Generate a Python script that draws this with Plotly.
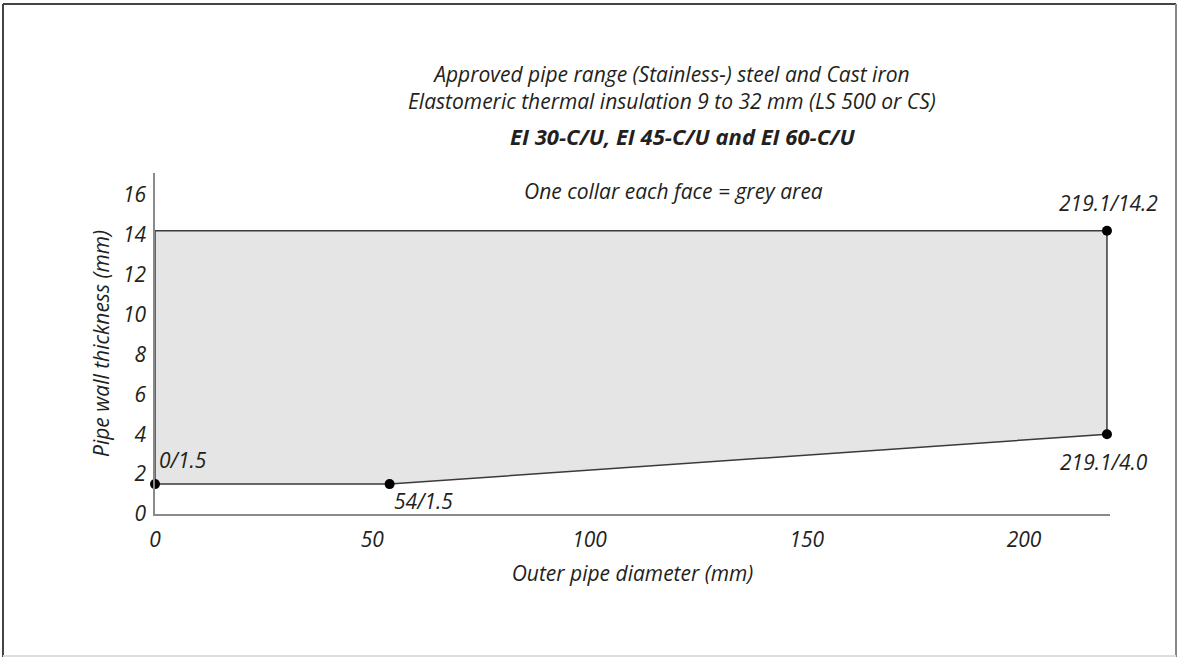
import plotly.graph_objects as go

# Data: corner points of the approved range
diameters = [0, 54, 219.1, 219.1, 0]
thicknesses = [1.5, 1.5, 4.0, 14.2, 14.2]
point_labels = ["0/1.5", "54/1.5", "219.1/4.0", "219.1/14.2"]
x_ticks = [0, 50, 100, 150, 200]
y_ticks = [0, 2, 4, 6, 8, 10, 12, 14, 16]
title_lines = [
    "Approved pipe range (Stainless-) steel and Cast iron",
    "Elastomeric thermal insulation 9 to 32 mm (LS 500 or CS)",
    "<b>EI 30-C/U, EI 45-C/U and EI 60-C/U</b>",
    "One collar each face = grey area",
]

W, H = 1178, 657
ML, MR, MT, MB = 155, 68, 173, 143
PW, PH = W - ML - MR, H - MT - MB

def px(p):
    return (p - ML) / PW

def py(p):
    return (H - MB - p) / PH

FONT = "Open Sans"
TXT = "#231f20"

fig = go.Figure()

# filled polygon
fig.add_trace(go.Scatter(
    x=diameters + [diameters[0]], y=thicknesses + [thicknesses[0]],
    mode="lines", fill="toself", fillcolor="#e5e5e5",
    line=dict(color="#3a3a3a", width=1.5), hoverinfo="skip", showlegend=False))

# markers
fig.add_trace(go.Scatter(
    x=diameters[:4], y=thicknesses[:4], mode="markers", cliponaxis=False,
    marker=dict(color="black", size=10), showlegend=False))

# point labels
offsets = [(2, 24, "left"), (2, -17, "left"), (-3, -28, "center"), (2, 28, "center")]
for (xv, yv, lab, (dx, dy, anc)) in zip(diameters[:4], thicknesses[:4], point_labels, offsets):
    fig.add_annotation(x=xv, y=yv, text=f"<i>{lab}</i>", showarrow=False,
                       xshift=dx, yshift=dy, xanchor=anc, yanchor="middle",
                       font=dict(family=FONT, size=21, color=TXT))

# titles (first two lines as one block)
fig.add_annotation(xref="paper", yref="paper", x=px(672), y=py(87),
                   text=f"<i>{title_lines[0]}<br>{title_lines[1]}</i>", showarrow=False,
                   xanchor="center", yanchor="middle", align="center",
                   font=dict(family=FONT, size=21, color=TXT))
for line, (tx, ty, fs) in zip(title_lines[2:], [(682, 136, 22), (673, 191, 21)]):
    fig.add_annotation(xref="paper", yref="paper", x=px(tx), y=py(ty),
                       text=f"<i>{line}</i>", showarrow=False,
                       xanchor="center", yanchor="middle",
                       font=dict(family=FONT, size=fs, color=TXT))

# frame border
fig.add_shape(type="line", xref="paper", yref="paper", x0=px(3), x1=px(3), y0=py(4), y1=py(657),
              line=dict(color="#444444", width=2))
fig.add_shape(type="line", xref="paper", yref="paper", x0=px(3), x1=px(1176), y0=py(4), y1=py(4),
              line=dict(color="#444444", width=2))
fig.add_shape(type="line", xref="paper", yref="paper", x0=px(1176), x1=px(1176), y0=py(4), y1=py(657),
              line=dict(color="#888888", width=2))
fig.add_shape(type="line", xref="paper", yref="paper", x0=px(3), x1=px(1176), y0=py(656), y1=py(656),
              line=dict(color="#dddddd", width=2))

fig.update_layout(
    width=W, height=H,
    margin=dict(l=ML, r=MR, t=MT, b=MB),
    paper_bgcolor="white", plot_bgcolor="white",
    showlegend=False,
    font=dict(family=FONT, color=TXT),
    xaxis=dict(range=[0, 219.8], tickvals=x_ticks, showgrid=False, zeroline=False,
               showline=True, linecolor="#8a8a8a", linewidth=1.5,
               ticks="outside", ticklen=6, tickcolor="rgba(0,0,0,0)",
               tickfont=dict(family=FONT, size=21, color=TXT, style="italic"),
               title=dict(text="Outer pipe diameter (mm)", standoff=14,
                          font=dict(family=FONT, size=21, color=TXT, style="italic"))),
    yaxis=dict(range=[0, 17.1], tickvals=y_ticks, showgrid=False, zeroline=False,
               showline=True, linecolor="#8a8a8a", linewidth=1.5,
               ticks="outside", ticklen=3, tickcolor="rgba(0,0,0,0)",
               tickfont=dict(family=FONT, size=21, color=TXT, style="italic"),
               title=dict(text="Pipe wall thickness (mm)", standoff=8,
                          font=dict(family=FONT, size=21, color=TXT, style="italic"))),
)

fig.write_html("out.html", config={"displayModeBar": False},
               post_script="document.body.style.margin='0';document.body.style.overflow='hidden';")
